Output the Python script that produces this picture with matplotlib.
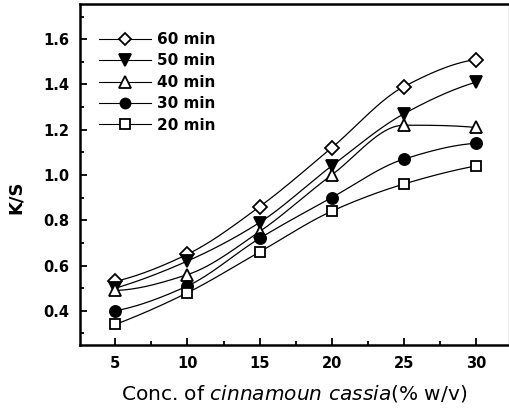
import matplotlib as mpl
mpl.use('agg')
import matplotlib.pyplot as plt
from matplotlib.ticker import MultipleLocator
import numpy as np

plt.rcParams['font.family'] = 'DejaVu Sans'
plt.rcParams['mathtext.fontset'] = 'dejavusans'

# data
conc = [5, 10, 15, 20, 25, 30]
ks_60 = [0.53, 0.65, 0.86, 1.12, 1.39, 1.51]
ks_50 = [0.50, 0.62, 0.79, 1.04, 1.27, 1.41]
ks_40 = [0.49, 0.56, 0.75, 1.00, 1.22, 1.21]
ks_30 = [0.40, 0.51, 0.72, 0.90, 1.07, 1.14]
ks_20 = [0.34, 0.48, 0.66, 0.84, 0.96, 1.04]
labels = ['60 min', '50 min', '40 min', '30 min', '20 min']

def smooth(x, y, n=200):
    # monotone cubic (pchip) through the points, only for drawing the line
    x = np.asarray(x, float); y = np.asarray(y, float)
    h = np.diff(x); dl = np.diff(y)/h
    d = np.zeros_like(y)
    for k in range(1, len(x)-1):
        if dl[k-1]*dl[k] > 0:
            w1 = 2*h[k]+h[k-1]; w2 = h[k]+2*h[k-1]
            d[k] = (w1+w2)/(w1/dl[k-1]+w2/dl[k])
    def endslope(h0, h1, d0, d1):
        s = ((2*h0+h1)*d0 - h0*d1)/(h0+h1)
        if np.sign(s) != np.sign(d0): s = 0
        elif np.sign(d0) != np.sign(d1) and abs(s) > abs(3*d0): s = 3*d0
        return s
    d[0] = endslope(h[0], h[1], dl[0], dl[1])
    d[-1] = endslope(h[-1], h[-2], dl[-1], dl[-2])
    xs = np.linspace(x[0], x[-1], n)
    i = np.clip(np.searchsorted(x, xs) - 1, 0, len(x)-2)
    t = (xs - x[i])/h[i]
    h00 = 2*t**3-3*t**2+1; h10 = t**3-2*t**2+t; h01 = -2*t**3+3*t**2; h11 = t**3-t**2
    ys = h00*y[i] + h10*h[i]*d[i] + h01*y[i+1] + h11*h[i]*d[i+1]
    return xs, ys

fig = plt.figure(figsize=(5.1, 4.09), dpi=100)
ax = fig.add_axes([0.157, 0.157, 0.841, 0.833])

series = [(ks_60, 'D', 'white', 7), (ks_50, 'v', 'black', 9), (ks_40, '^', 'white', 9),
          (ks_30, 'o', 'black', 8), (ks_20, 's', 'white', 7.5)]
handles = []
for (vals, mk, fc, ms), lab in zip(series, labels):
    xs, ys = smooth(conc, vals)
    ax.plot(xs, ys, color='black', lw=0.9, zorder=2)
    ax.plot(conc, vals, ls='none', marker=mk, mfc=fc, mec='black', mew=1.3, ms=ms, zorder=3)
    h, = ax.plot([], [], color='black', lw=0.8, marker=mk, mfc=fc, mec='black', mew=1.3, ms=ms*0.9, label=lab)
    handles.append(h)

leg = ax.legend(handles=handles, loc='upper left', bbox_to_anchor=(0.045, 0.918), frameon=False,
                borderpad=0, borderaxespad=0, handlelength=3.4, handletextpad=0.4,
                labelspacing=0.42, prop={'size': 11, 'weight': 'bold'})

ax.set_xlim(2.55, 32.3)
ax.set_ylim(0.25, 1.755)
ax.xaxis.set_major_locator(MultipleLocator(5))
ax.xaxis.set_minor_locator(MultipleLocator(2.5))
ax.yaxis.set_minor_locator(MultipleLocator(0.1))
ax.set_yticks(np.arange(0.4, 1.61, 0.2))
ax.set_yticklabels(['%.1f' % v for v in np.arange(0.4, 1.61, 0.2)])
ax.tick_params(which='both', direction='in', labelsize=10.5, width=1.3)
ax.tick_params(which='major', length=5, pad=8)
ax.tick_params(which='minor', length=3)
for lbl in ax.get_xticklabels() + ax.get_yticklabels():
    lbl.set_fontweight('bold')
for s in ax.spines.values():
    s.set_linewidth(1.8)
ax.spines['right'].set_linewidth(0.8)

ax.set_ylabel('K/S', fontsize=13, fontweight='bold')
ax.yaxis.set_label_coords(-0.128, 0.434)
ax.set_xlabel(r'Conc. of $cinnamoun\ cassia$(% w/v)', fontsize=14.5, labelpad=9)

fig.savefig('out.png', dpi=100)
